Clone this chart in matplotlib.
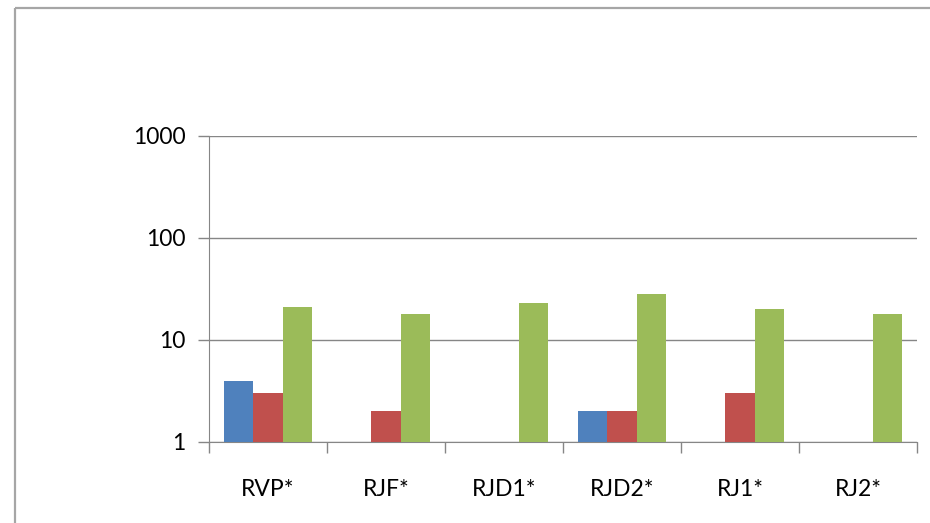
import matplotlib
matplotlib.use("Agg")
import matplotlib.pyplot as plt
from matplotlib.lines import Line2D
import numpy as np

categories = ["RVP*", "RJF*", "RJD1*", "RJD2*", "RJ1*", "RJ2*"]
series_blue = [4, np.nan, np.nan, 2, np.nan, np.nan]
series_red = [3, 2, np.nan, 2, 3, np.nan]
series_green = [21, 18, 23, 28, 20, 18]
y_ticks = [1, 10, 100, 1000]
y_tick_labels = ["1", "10", "100", "1000"]

colors = ["#4F81BD", "#C0504D", "#9BBB59"]
grey = "#868686"

plt.rcParams["font.family"] = ["Lato", "DejaVu Sans"]

fig = plt.figure(figsize=(9.3, 5.23), dpi=100)
ax = fig.add_axes([209 / 930, 1 - 442 / 523, (917 - 209) / 930, (442 - 136) / 523])

x = np.arange(len(categories)) + 0.5
w = 0.25
for i, vals in enumerate([series_blue, series_red, series_green]):
    vals = np.array(vals, dtype=float)
    mask = ~np.isnan(vals)
    ax.bar(x[mask] + (i - 1) * w, vals[mask] - 1, bottom=1, width=w,
           color=colors[i], zorder=3)

ax.set_yscale("log")
ax.set_ylim(1, 1000)
ax.set_xlim(0, len(categories))
ax.set_yticks(y_ticks)
ax.set_yticklabels(y_tick_labels)
ax.yaxis.set_minor_locator(matplotlib.ticker.NullLocator())
ax.grid(axis="y", color=grey, linewidth=1, zorder=0)

ax.set_xticks(x)
ax.set_xticklabels(categories)
ax.set_xticks(np.arange(len(categories) + 1), minor=True)
ax.tick_params(axis="x", which="major", length=0, pad=27, labelsize=16.5, colors="black")
ax.tick_params(axis="x", which="minor", length=8, color=grey, width=1, direction="out")
ax.tick_params(axis="y", length=8, color=grey, width=1, direction="out", labelsize=16.5, pad=9)

for s in ["top", "right"]:
    ax.spines[s].set_visible(False)
ax.spines["left"].set_color(grey)
ax.spines["bottom"].set_color(grey)

# outer chart border (top and left visible)
border = "#A6A6A6"
top_y = 1 - 8 / 523
fig.add_artist(Line2D([15 / 930, 1.01], [top_y, top_y], color=border,
                      linewidth=1.6, solid_capstyle="butt"))
fig.add_artist(Line2D([15 / 930, 15 / 930], [-0.01, top_y], color=border,
                      linewidth=1.6, solid_capstyle="butt"))

fig.savefig("out.png", dpi=100)
